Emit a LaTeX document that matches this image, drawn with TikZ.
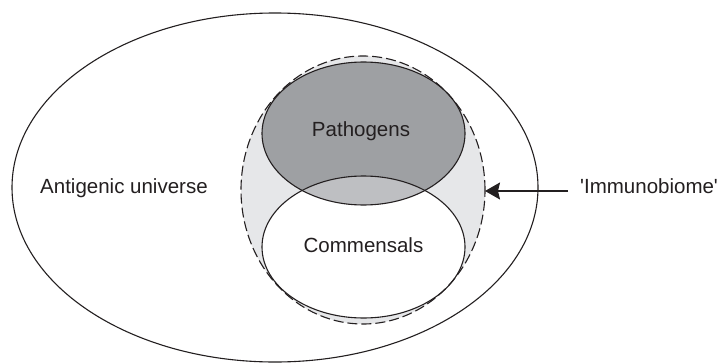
\documentclass[tikz,border=0pt]{standalone}
\usepackage{fontspec}
\setmainfont{Liberation Sans}
\usetikzlibrary{arrows.meta}
\definecolor{imlight}{RGB}{230,231,233}
\definecolor{pathdark}{RGB}{158,160,163}
\definecolor{midgrey}{RGB}{190,191,194}
\definecolor{ink}{RGB}{35,31,32}
\begin{document}
\begin{tikzpicture}[x=1pt,y=-1pt,
  lab/.style={font=\fontsize{20.5}{24}\selectfont, text=ink, inner sep=0pt},
  outline/.style={line width=1.1pt, draw=ink},
  dashedline/.style={line width=1.1pt, draw=ink, dash pattern=on 10pt off 4pt}]
\useasboundingbox (0,0) rectangle (718,364);
\fill[white] (0,0) rectangle (718,364);
% fills
\fill[imlight] (363,190) ellipse [x radius=122pt, y radius=134pt];
\fill[pathdark] (363.5,133.5) ellipse [x radius=101.5pt, y radius=71.5pt];
\fill[white] (363.5,247) ellipse [x radius=101.5pt, y radius=71pt];
\begin{scope}
  \clip (363.5,133.5) ellipse [x radius=101.5pt, y radius=71.5pt];
  \fill[midgrey] (363.5,247) ellipse [x radius=101.5pt, y radius=71pt];
\end{scope}
% outlines
\draw[outline] (275,187.5) ellipse [x radius=263pt, y radius=174.5pt];
\draw[dashedline] (363,190) ellipse [x radius=122pt, y radius=134pt];
\draw[outline] (363.5,133.5) ellipse [x radius=101.5pt, y radius=71.5pt];
\draw[outline] (363.5,247) ellipse [x radius=101.5pt, y radius=71pt];
% labels
\node[lab] (path) at (361,131) {Pathogens};
\node[lab] (comm) at (363.5,245) {Commensals};
\node[lab, anchor=west] (anti) at (40,188) {Antigenic universe};
\node[lab, anchor=west] (imm) at (580,186) {\textquotesingle Immunobiome\textquotesingle};
% arrow
\coordinate (tail) at (568,191);
\coordinate (tip) at (485,191);
\draw[outline, -{Stealth[length=15pt,width=17pt,inset=2pt]}] (tail) -- (tip);
\end{tikzpicture}
\end{document}
